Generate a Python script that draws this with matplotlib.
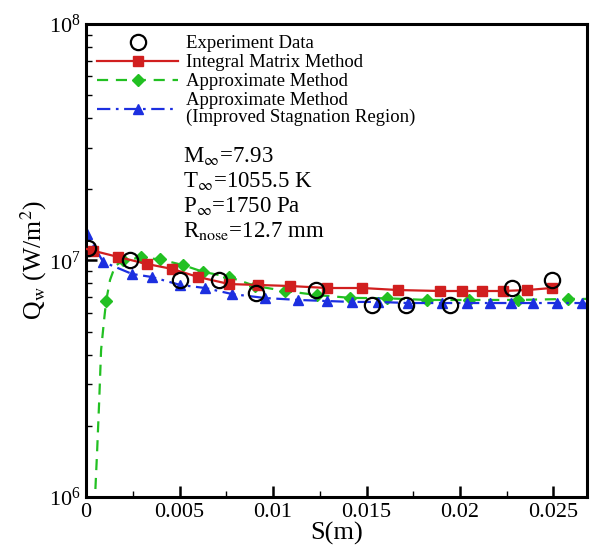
import matplotlib
matplotlib.use('Agg')
import matplotlib.pyplot as plt
from matplotlib.ticker import MultipleLocator, LogLocator, NullFormatter, FuncFormatter

plt.rcParams['font.family'] = ['Liberation Serif', 'DejaVu Serif']
plt.rcParams['mathtext.fontset'] = 'stix'

# experiment (open circles)
s_exp = [0.0001, 0.00234, 0.0050, 0.00713, 0.0091, 0.0123, 0.01527, 0.01713, 0.01947, 0.02277, 0.02495]
q_exp = [1.13e7, 1.0e7, 8.3e6, 8.3e6, 7.3e6, 7.5e6, 6.5e6, 6.5e6, 6.5e6, 7.65e6, 8.3e6]

# integral matrix method
s_imm = [0.0, 0.00037, 0.00171, 0.00327, 0.0046, 0.0060, 0.00766, 0.0092, 0.01092, 0.0129,
         0.01478, 0.0167, 0.01895, 0.0201, 0.0212, 0.0223, 0.0236, 0.0249]
q_imm = [1.12e7, 1.10e7, 1.035e7, 9.66e6, 9.21e6, 8.51e6, 7.95e6, 7.88e6, 7.80e6, 7.65e6,
         7.65e6, 7.50e6, 7.43e6, 7.43e6, 7.43e6, 7.43e6, 7.50e6, 7.65e6]
imm_marks = list(range(1, len(s_imm)))

# approximate method
s_apx = [0.00045, 0.00059, 0.0007, 0.0008, 0.00096, 0.00107, 0.00128, 0.00155, 0.00198,
         0.00295, 0.00396, 0.00519, 0.00627, 0.00766, 0.00905, 0.01066, 0.01237, 0.01413,
         0.01611, 0.01825, 0.0205, 0.0231, 0.0258, 0.0268]
q_apx = [9.0e5, 1.58e6, 2.57e6, 4.19e6, 5.6e6, 6.75e6, 8.28e6, 9.48e6, 1.0e7,
         1.03e7, 1.01e7, 9.56e6, 8.95e6, 8.51e6, 7.80e6, 7.43e6, 7.14e6, 6.95e6,
         6.92e6, 6.81e6, 6.81e6, 6.81e6, 6.88e6, 6.88e6]
apx_marks = [5, 8, 9, 10, 11, 12, 13, 14, 15, 16, 17, 18, 19, 20, 21, 22]

# approximate method, improved stagnation region
s_isr = [0.0, 0.00005, 0.00091, 0.00246, 0.00353, 0.00503, 0.00637, 0.00782, 0.00958, 0.01135,
         0.01290, 0.01424, 0.01563, 0.01724, 0.01906, 0.02040, 0.02163, 0.02275, 0.02393,
         0.02521, 0.02655, 0.0268]
q_isr = [1.38e7, 1.295e7, 9.86e6, 8.77e6, 8.51e6, 7.88e6, 7.65e6, 7.21e6, 6.94e6, 6.81e6,
         6.74e6, 6.68e6, 6.68e6, 6.61e6, 6.61e6, 6.61e6, 6.61e6, 6.61e6, 6.61e6,
         6.61e6, 6.61e6, 6.55e6]
isr_marks = list(range(1, 21))

params = [r'M$_\infty$=7.93', r'T$_\infty$=1055.5 K', r'P$_\infty$=1750 Pa',
          r'R$_\mathrm{nose}$=12.7 mm']

fig = plt.figure(figsize=(5.9, 5.56), dpi=100)
ax = fig.add_axes([0.146, 0.106, 0.849, 0.851])

ax.plot(s_imm, q_imm, color='#d11f1f', lw=1.6, marker='s', ms=6.5, markevery=imm_marks,
        label='Integral Matrix Method', zorder=3)
ax.plot(s_apx, q_apx, color='#22c022', lw=1.6, ls=(0, (5, 3.5)), marker='D', ms=6,
        markevery=apx_marks, label='Approximate Method', zorder=2)
ax.plot(s_isr, q_isr, color='#1c2fe0', lw=1.6, ls=(0, (6, 2.5, 1.2, 2.5)), marker='^', ms=7,
        markevery=isr_marks,
        label='Approximate Method\n(Improved Stagnation Region)', zorder=2)
ax.plot(s_exp, q_exp, ls='none', marker='o', ms=11, mfc='none', mec='black', mew=1.6,
        label='Experiment Data', zorder=4)

ax.set_yscale('log')
ax.set_xlim(0, 0.0268)
ax.set_ylim(1e6, 1e8)

ax.xaxis.set_major_locator(MultipleLocator(0.005))
ax.xaxis.set_minor_locator(MultipleLocator(0.0025))
ax.xaxis.set_major_formatter(FuncFormatter(lambda v, p: '0' if abs(v) < 1e-9 else '%g' % v))
ax.yaxis.set_major_locator(LogLocator(base=10))
ax.yaxis.set_minor_locator(LogLocator(base=10, subs=range(2, 10)))
ax.yaxis.set_minor_formatter(NullFormatter())

ax.tick_params(which='both', direction='in', top=False, right=False, labelsize=16, pad=4)
ax.tick_params(which='major', length=8, width=1.8)
ax.tick_params(which='minor', length=4, width=1.0)
for sp in ax.spines.values():
    sp.set_linewidth(2.2)

ax.set_xlabel('S(m)', fontsize=19, labelpad=0)
ax.set_ylabel(r'Q$_\mathrm{w}$ (W/m$^2$)', fontsize=18.5, labelpad=0)

h, l = ax.get_legend_handles_labels()
order = [3, 0, 1, 2]
leg = ax.legend([h[i] for i in order], [l[i] for i in order], loc='upper left',
                bbox_to_anchor=(0.0, 1.0), frameon=False, fontsize=13.5, handlelength=4.3,
                handletextpad=0.4, labelspacing=0.1, borderaxespad=0.2)
for t in leg.get_texts():
    t.set_linespacing(1.0)

ys = [0.708, 0.655, 0.603, 0.550]
for txt, y in zip(params, ys):
    ax.text(0.194, y, txt, transform=ax.transAxes, fontsize=16.5, va='baseline', ha='left')

fig.savefig('out.png', dpi=100)
